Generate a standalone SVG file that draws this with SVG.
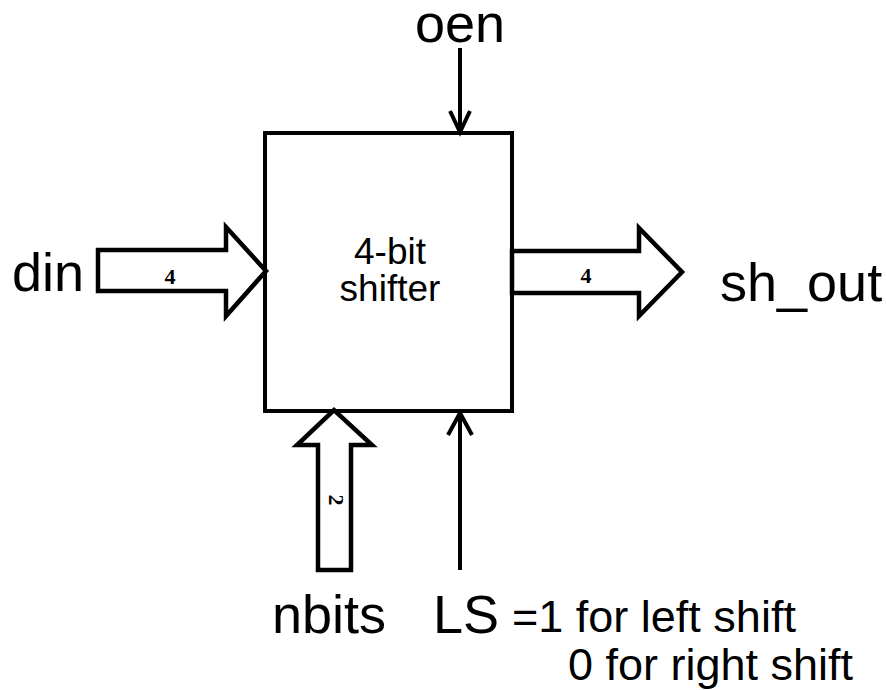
<svg xmlns="http://www.w3.org/2000/svg" width="886" height="690" viewBox="0 0 886 690">
  <defs>
    <style>
      .ln { fill: none; stroke: #000; stroke-width: 4; }
      .fat { fill: #fff; stroke: #000; stroke-width: 4.5; stroke-linejoin: miter; }
      .big { font-family: "Liberation Sans", Arial, sans-serif; font-size: 54px; fill: #000; }
      .mid { font-family: "Liberation Sans", Arial, sans-serif; font-size: 37px; fill: #000; }
      .note { font-family: "Liberation Sans", Arial, sans-serif; font-size: 45px; fill: #000; }
      .bw { font-family: "Liberation Serif", "Times New Roman", serif; font-size: 22px; font-weight: bold; fill: #000; }
    </style>
  </defs>
  <rect width="886" height="690" fill="#fff"/>

  <g id="connectors">
    <g id="din-bus">
      <polygon class="fat" points="98,250 226,250 226,227 266,271 226,316 226,291 98,291"/>
      <text class="bw" x="170" y="284" text-anchor="middle">4</text>
    </g>
    <g id="shout-bus">
      <polygon class="fat" points="512,251 639,251 639,228 682,272 639,316 639,293 512,293"/>
      <text class="bw" x="586" y="283" text-anchor="middle">4</text>
    </g>
    <g id="nbits-bus">
      <polygon class="fat" points="318,570 318,445 297,445 334,410 372,445 351,445 351,570"/>
      <text class="bw" transform="translate(336,500) rotate(90)" text-anchor="middle" dy="7">2</text>
    </g>
    <g id="oen-wire">
      <line class="ln" x1="460" y1="48" x2="460" y2="132"/>
      <polyline class="ln" points="450,111 460,132 470,111"/>
    </g>
    <g id="ls-wire">
      <line class="ln" x1="460" y1="570" x2="460" y2="413"/>
      <polyline class="ln" points="448,435 460,413 472,435"/>
    </g>
  </g>

  <g id="shifter">
    <rect class="ln" x="265" y="133" width="247" height="278"/>
    <text class="mid" x="390" y="264" text-anchor="middle">4-bit</text>
    <text class="mid" x="390" y="301" text-anchor="middle">shifter</text>
  </g>

  <g id="labels">
    <text id="oen" class="big" x="460" y="42" text-anchor="middle">oen</text>
    <text id="din" class="big" x="12" y="291">din</text>
    <text id="sh_out" class="big" x="720" y="301">sh_out</text>
    <text id="nbits" class="big" x="272" y="633">nbits</text>
    <text id="LS" class="big" x="433" y="633">LS</text>
    <text class="note" x="512" y="632">=1 for left shift</text>
    <text class="note" x="568" y="680">0 for right shift</text>
  </g>
</svg>
